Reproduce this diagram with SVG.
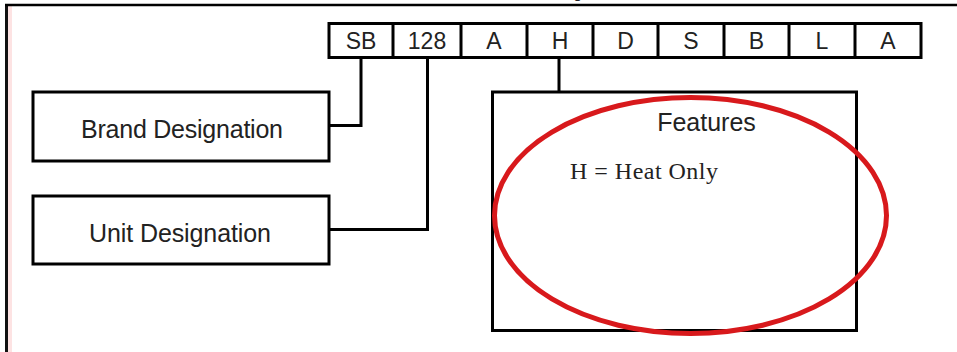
<svg xmlns="http://www.w3.org/2000/svg" width="957" height="352" viewBox="0 0 957 352">
<style>
.box{fill:#fff;stroke:#000;stroke-width:3}
.ln{fill:none;stroke:#000;stroke-width:3}
.sans{font-family:"Liberation Sans",Arial,sans-serif;fill:#222;text-anchor:middle}
.code{font-size:23px}
.lbl{font-size:25px}
.serif{font-family:"Liberation Serif","Times New Roman",serif;fill:#222}
</style>
<rect x="0" y="0" width="957" height="352" fill="#fff"/>
<g id="frame">
<rect x="8" y="5" width="4" height="347" fill="#fde3e3"/>
<line x1="6.5" y1="4" x2="6.5" y2="352" stroke="#111" stroke-width="3"/>
<line x1="5" y1="5" x2="957" y2="5" stroke="#000" stroke-width="2.5"/>
<text x="575" y="-3" class="serif" style="font-size:18px;font-weight:bold">p</text>
</g>
<g id="code">
<rect class="box" x="329" y="23.5" width="592" height="34"/>
<path class="ln" d="M393 23.5V57.5M461 23.5V57.5M527 23.5V57.5M593 23.5V57.5M658 23.5V57.5M724 23.5V57.5M789 23.5V57.5M855 23.5V57.5"/>
<g class="sans code">
<text x="361" y="49">SB</text>
<text x="427" y="49">128</text>
<text x="494" y="49">A</text>
<text x="560" y="49">H</text>
<text x="625.5" y="49">D</text>
<text x="691" y="49">S</text>
<text x="756.5" y="49">B</text>
<text x="822" y="49">L</text>
<text x="888" y="49">A</text>
</g>
</g>
<g id="connectors">
<path class="ln" d="M361 57.5V125.5H329"/>
<path class="ln" d="M427.5 57.5V229.5H329"/>
<path class="ln" d="M559 57.5V92"/>
</g>
<g id="brand">
<rect class="box" x="33" y="92" width="296" height="69"/>
<text class="sans lbl" x="182" y="138" textLength="202">Brand Designation</text>
</g>
<g id="unit">
<rect class="box" x="33" y="196" width="296" height="68"/>
<text class="sans lbl" x="180" y="242" textLength="182">Unit Designation</text>
</g>
<g id="features">
<rect class="box" x="492.5" y="92" width="364" height="238.5"/>
<text class="sans lbl" x="706.5" y="131">Features</text>
<text class="serif" x="570" y="179" style="font-size:24px" textLength="148">H = Heat Only</text>
</g>
<g id="highlight">
<ellipse cx="690.5" cy="215.5" rx="196" ry="118" fill="none" stroke="#d8191c" stroke-width="5"/>
</g>
</svg>
